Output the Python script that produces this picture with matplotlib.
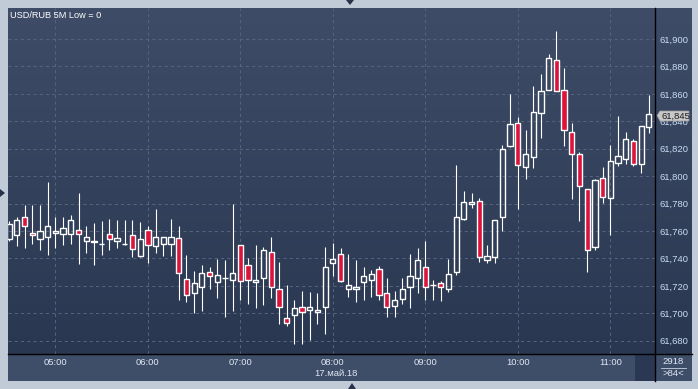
import numpy as np
import matplotlib.pyplot as plt
from matplotlib.colors import LinearSegmentedColormap
from matplotlib.patches import Rectangle, Polygon
from matplotlib.lines import Line2D

# 5-minute candles, 04:30 .. 11:25 (index 0 = 05:00)
opens = [61754, 61757, 61770, 61758.5, 61754, 61755.5, 61758.5, 61758, 61758, 61760.5,
         61752.5, 61752, 61750.5, 61758, 61752.5, 61750.5, 61757, 61741.5, 61760.5, 61749,
         61750.5, 61750.5, 61755, 61725, 61714.5, 61719.5, 61730, 61723, 61726, 61724,
         61749.5, 61735.5, 61722.5, 61726, 61745, 61717.5, 61696.5, 61698.5, 61704.5, 61702.5,
         61701, 61704.5, 61736.5, 61743, 61717.5, 61717.5, 61723, 61724, 61732, 61714.5,
         61705, 61710.5, 61719.5, 61726, 61734, 61720.5, 61722, 61717.5, 61730, 61768.5,
         61779.5, 61782, 61738.5, 61741, 61770, 61822, 61838.5, 61806.5, 61814, 61846,
         61862.5, 61884.5, 61862.5, 61832.5, 61816.5, 61790.5, 61748.5, 61798.5, 61784, 61809.5,
         61812.5, 61825.5, 61808.5, 61835.5]
highs = [61767, 61770, 61779, 61779, 61779, 61795.5, 61770.5, 61770.5, 61772, 61788,
         61764, 61766, 61767, 61769, 61768, 61768, 61768, 61766.5, 61764, 61776,
         61755.5, 61768.5, 61763.5, 61742.5, 61730.5, 61735.5, 61733.5, 61739.5, 61738.5, 61780,
         61749.5, 61740, 61749.5, 61748.5, 61755.5, 61737.5, 61720.5, 61710, 61716.5, 61715.5,
         61715, 61748, 61751, 61747.5, 61743, 61738.5, 61733.5, 61731.5, 61734.5, 61726,
         61716.5, 61725.5, 61743, 61747.5, 61752.5, 61724, 61723.5, 61739.5, 61808, 61789,
         61787.5, 61784, 61749.5, 61768, 61822.5, 61860, 61843, 61833.5, 61865.5, 61874.5,
         61889, 61906, 61879, 61839, 61817.5, 61790.5, 61798, 61806.5, 61822.5, 61844,
         61832, 61827, 61836.5, 61859]
lows = [61753, 61749, 61747.5, 61750.5, 61746.5, 61742.5, 61747.5, 61749.5, 61750.5, 61736,
        61744, 61735, 61742.5, 61746, 61747.5, 61749.5, 61741, 61741, 61736.5, 61744,
        61741.5, 61741.5, 61709.5, 61708.5, 61700.5, 61702, 61717.5, 61711, 61697, 61702,
        61709.5, 61707, 61703.5, 61706, 61711, 61692.5, 61691, 61677.5, 61677.5, 61680.5,
        61692.5, 61685, 61727.5, 61722.5, 61712, 61708.5, 61710, 61712, 61710, 61697,
        61697, 61706.5, 61703.5, 61715, 61709.5, 61709.5, 61709, 61715.5, 61728, 61768,
        61776.5, 61737.5, 61736.5, 61737, 61760, 61821.5, 61776, 61798, 61806, 61827.5,
        61862.5, 61862, 61822, 61783.5, 61767.5, 61730, 61746, 61780.5, 61757, 61807.5,
        61809, 61807.5, 61802.5, 61831.5]
closes = [61765, 61768, 61763.5, 61757, 61760, 61763.5, 61760, 61762, 61768, 61758,
          61755.5, 61753, 61750.5, 61754, 61755, 61750.5, 61747, 61754, 61750, 61755.5,
          61755.5, 61755.5, 61729, 61713, 61722, 61729, 61727.5, 61728, 61726, 61729.5,
          61723.5, 61724, 61724.5, 61746.5, 61719.5, 61704.5, 61693, 61704, 61701, 61704.5,
          61702.5, 61733.5, 61739.5, 61723.5, 61720.5, 61719.5, 61727.5, 61728.5, 61713, 61704.5,
          61709.5, 61717.5, 61727.5, 61738.5, 61719.5, 61720.5, 61719, 61728.5, 61770, 61781,
          61781, 61741, 61741.5, 61768, 61819.5, 61838, 61808, 61816, 61846.5, 61862,
          61886, 61862, 61833.5, 61816, 61793, 61746.5, 61797, 61784.5, 61811, 61814.5,
          61827, 61809, 61836.5, 61845]

price_ticks = list(range(61680, 61901, 20))
hour_labels = ['05:00', '06:00', '07:00', '08:00', '09:00', '10:00', '11:00']
last_price = '61,845'

W, H = 698, 389
fig = plt.figure(figsize=(W / 100, H / 100), dpi=100)
fig.patch.set_facecolor('#c1cbd8')


def box(x0, y0, x1, y1):
    # pixel box (top-left origin) -> figure fraction rect
    return [x0 / W, 1 - y1 / H, (x1 - x0) / W, (y1 - y0) / H]


def fx(x):
    return x / W


def fy(y):
    return 1 - y / H


# bottom time panel (drawn under the axes so tick labels stay on top)
fig.add_artist(Rectangle((fx(8), fy(381)), fx(692) - fx(8), fy(354) - fy(381),
                         transform=fig.transFigure, facecolor='#3e4d68', edgecolor='none',
                         zorder=-2))
fig.add_artist(Rectangle((fx(635), fy(381)), fx(655) - fx(635), fy(355) - fy(381),
                         transform=fig.transFigure, facecolor='#2b3853', edgecolor='none',
                         zorder=-1))

# gradient background for plot + price panel
bg = fig.add_axes(box(8, 8, 692, 354))
cmap = LinearSegmentedColormap.from_list('bg', ['#3f4c67', '#2a3751'])
bg.imshow(np.linspace(0, 1, 256).reshape(-1, 1), aspect='auto', cmap=cmap,
          extent=[0, 1, 0, 1])
bg.axis('off')

ax = fig.add_axes(box(8, 8, 655, 354))
ax.patch.set_alpha(0)

x = np.arange(len(opens)) - 6
o = np.array(opens)
c = np.array(closes)
hi = np.array(highs)
lo = np.array(lows)
top = np.maximum(o, c)
bot = np.minimum(o, c)
up = c >= o

ax.vlines(x, top, hi, color='white', linewidth=0.8, zorder=3)
ax.vlines(x, lo, bot, color='white', linewidth=0.8, zorder=3)
ax.bar(x, top - bot, width=0.68, bottom=bot,
       color=np.where(up, 'none', '#dc143c'), edgecolor='white',
       linewidth=1.0, zorder=4)

ax.set_xlim(-6.15, 77.8)
ax.set_ylim(61670.3, 61922.6)

ax.set_xticks(np.arange(0, 73, 12))
ax.set_xticklabels(hour_labels)
ax.set_yticks(price_ticks)
ax.set_yticklabels([f'{v:,}' for v in price_ticks])
ax.yaxis.tick_right()
ax.tick_params(axis='x', length=0, pad=3, labelsize=6.8, colors='#dfe7f1')
ax.tick_params(axis='y', length=0, pad=3.5, labelsize=6.8, colors='#c9dcf3')
for lab in ax.get_xticklabels() + ax.get_yticklabels():
    lab.set_family('Liberation Sans')
ax.grid(True, color='#56637e', linestyle=(0, (3, 3)), linewidth=0.75)
for s in ax.spines.values():
    s.set_visible(False)

# separator lines
fig.add_artist(Line2D([fx(655), fx(655)], [fy(8), fy(381)], transform=fig.transFigure,
                      color='black', linewidth=1))
fig.add_artist(Line2D([fx(8), fx(692)], [fy(354), fy(354)], transform=fig.transFigure,
                      color='black', linewidth=1))

# texts
fig.text(fx(10), fy(15), 'USD/RUB 5M Low = 0', color='white', fontsize=6.6,
         family='Liberation Sans', va='center', ha='left')
fig.text(fx(336), fy(373.5), '17.май.18', color='#dfe7f1', fontsize=6.8,
         family='Liberation Sans', va='center', ha='center')
fig.text(fx(673), fy(361.5), '2918', color='#dfe7f1', fontsize=6.8,
         family='Liberation Sans', va='center', ha='center')
fig.text(fx(673), fy(374), '>84<', color='#dfe7f1', fontsize=6.8,
         family='Liberation Sans', va='center', ha='center')
fig.add_artist(Line2D([fx(661), fx(686)], [fy(368), fy(368)], transform=fig.transFigure,
                      color='#c9d3df', linewidth=0.6))

# last price tag
tag = [(657, 115.5), (660, 111), (689, 111), (689, 121), (660, 121)]
fig.add_artist(Polygon([(fx(a), fy(b)) for a, b in tag], closed=True,
                       transform=fig.transFigure, facecolor='#c8c8c8', edgecolor='#9a9a9a',
                       linewidth=0.5, zorder=5))
fig.text(fx(661), fy(116), last_price, color='#1c1c1c', fontsize=6.8,
         family='Liberation Sans', va='center', ha='left', zorder=6)

# small scroll arrows
arrows = [[(346, 0), (354, 0), (350, 5)],
          [(0, 189), (0, 197), (5, 193)],
          [(348, 389), (356, 389), (352, 383)]]
for tri in arrows:
    fig.add_artist(Polygon([(fx(a), fy(b)) for a, b in tri], closed=True,
                           transform=fig.transFigure, facecolor='#27324a',
                           edgecolor='none'))

fig.savefig('out.png', dpi=100, facecolor=fig.get_facecolor())
